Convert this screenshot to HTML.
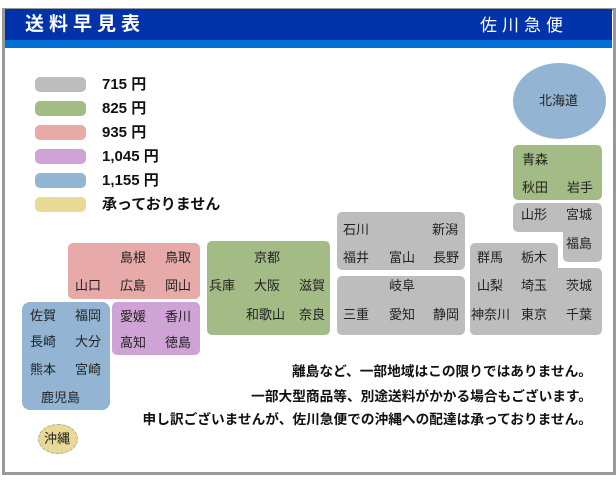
<!DOCTYPE html>
<html><head><meta charset="utf-8"><style>
body{margin:0;width:616px;height:480px;background:#fff;position:relative;overflow:hidden;font-family:"Liberation Sans","Noto Sans CJK JP",sans-serif;}
.a{position:absolute}
.t{position:absolute;font-size:13px;line-height:18px;color:#222;white-space:nowrap}
.b{position:absolute;border-radius:5px}
.g{background:#bdbdbd}.gr{background:#a3bb85}.p{background:#e8a9a9}.v{background:#cfa3d6}.bl{background:#93b5d3}.y{background:#e8d994}
.sw{position:absolute;left:35px;width:51px;height:15px;border-radius:5px}
.lt{position:absolute;left:102px;font-size:15px;font-weight:bold;line-height:18px;color:#111}
.n{position:absolute;right:24px;font-size:13.7px;font-weight:bold;line-height:18px;color:#111;white-space:nowrap}
</style></head><body>
<div class="a" style="left:2px;top:8px;width:608px;height:461px;border:3px solid #999;"></div>
<div class="a" style="left:5px;top:9px;width:607px;height:31px;background:#0033aa"></div>
<div class="a" style="left:5px;top:40px;width:607px;height:8px;background:#006fd6"></div>
<div class="a" style="left:25px;top:12px;color:#fff;font-size:19px;font-weight:bold;letter-spacing:5px;line-height:26px">送料早見表</div>
<div class="a" style="left:480px;top:14px;color:#fff;font-size:17px;letter-spacing:5px;line-height:24px">佐川急便</div>

<div class="sw g" style="top:77px"></div><div class="lt" style="top:76px">715 円</div>
<div class="sw gr" style="top:101px"></div><div class="lt" style="top:100px">825 円</div>
<div class="sw p" style="top:125px"></div><div class="lt" style="top:124px">935 円</div>
<div class="sw v" style="top:149px"></div><div class="lt" style="top:148px">1,045 円</div>
<div class="sw bl" style="top:173px"></div><div class="lt" style="top:172px">1,155 円</div>
<div class="sw y" style="top:197px"></div><div class="lt" style="top:196px">承っておりません</div>

<div class="a bl" style="left:513px;top:63px;width:93px;height:76px;border-radius:50%"></div>
<div class="t" style="left:539px;top:92px">北海道</div>

<div class="b gr" style="left:513px;top:145px;width:89px;height:55px"></div>
<div class="b g" style="left:513px;top:203px;width:89px;height:29px"></div>
<div class="b g" style="left:563px;top:222px;width:39px;height:40px"></div>
<div class="b g" style="left:337px;top:212px;width:128px;height:58px"></div>
<div class="b g" style="left:337px;top:276px;width:128px;height:59px"></div>
<div class="b g" style="left:470px;top:243px;width:88px;height:92px"></div>
<div class="b g" style="left:470px;top:268px;width:132px;height:67px"></div>
<div class="b gr" style="left:207px;top:241px;width:123px;height:94px"></div>
<div class="b p" style="left:68px;top:243px;width:132px;height:56px"></div>
<div class="b v" style="left:112px;top:302px;width:88px;height:53px"></div>
<div class="b bl" style="left:22px;top:302px;width:88px;height:108px;border-radius:8px"></div>
<div class="a y" style="left:38px;top:424px;width:40px;height:30px;border-radius:50%;border:1px dashed #aaa;box-sizing:border-box"></div>
<div class="t" style="left:44px;top:430px">沖縄</div>

<div class="t" style="left:522px;top:151px">青森</div>
<div class="t" style="left:522px;top:179px">秋田</div><div class="t" style="left:567px;top:179px">岩手</div>
<div class="t" style="left:521px;top:206px">山形</div><div class="t" style="left:566px;top:206px">宮城</div>
<div class="t" style="left:566px;top:235px">福島</div>

<div class="t" style="left:120px;top:249px">島根</div><div class="t" style="left:165px;top:249px">鳥取</div>
<div class="t" style="left:75px;top:277px">山口</div><div class="t" style="left:120px;top:277px">広島</div><div class="t" style="left:165px;top:277px">岡山</div>
<div class="t" style="left:120px;top:308px">愛媛</div><div class="t" style="left:165px;top:308px">香川</div>
<div class="t" style="left:120px;top:334px">高知</div><div class="t" style="left:165px;top:334px">徳島</div>
<div class="t" style="left:30px;top:307px">佐賀</div><div class="t" style="left:75px;top:307px">福岡</div>
<div class="t" style="left:30px;top:333px">長崎</div><div class="t" style="left:75px;top:333px">大分</div>
<div class="t" style="left:30px;top:361px">熊本</div><div class="t" style="left:75px;top:361px">宮崎</div>
<div class="t" style="left:41px;top:389px">鹿児島</div>

<div class="t" style="left:254px;top:249px">京都</div>
<div class="t" style="left:209px;top:277px">兵庫</div><div class="t" style="left:254px;top:277px">大阪</div><div class="t" style="left:299px;top:277px">滋賀</div>
<div class="t" style="left:246px;top:306px">和歌山</div><div class="t" style="left:299px;top:306px">奈良</div>

<div class="t" style="left:343px;top:221px">石川</div><div class="t" style="left:432px;top:221px">新潟</div>
<div class="t" style="left:343px;top:249px">福井</div><div class="t" style="left:389px;top:249px">富山</div><div class="t" style="left:433px;top:249px">長野</div>
<div class="t" style="left:389px;top:277px">岐阜</div>
<div class="t" style="left:343px;top:306px">三重</div><div class="t" style="left:389px;top:306px">愛知</div><div class="t" style="left:433px;top:306px">静岡</div>

<div class="t" style="left:477px;top:249px">群馬</div><div class="t" style="left:521px;top:249px">栃木</div>
<div class="t" style="left:477px;top:277px">山梨</div><div class="t" style="left:521px;top:277px">埼玉</div><div class="t" style="left:566px;top:277px">茨城</div>
<div class="t" style="left:471px;top:306px">神奈川</div><div class="t" style="left:521px;top:306px">東京</div><div class="t" style="left:566px;top:306px">千葉</div>

<div class="n" style="top:363px">離島など、一部地域はこの限りではありません。</div>
<div class="n" style="top:388px">一部大型商品等、別途送料がかかる場合もございます。</div>
<div class="n" style="top:411px">申し訳ございませんが、佐川急便での沖縄への配達は承っておりません。</div>
</body></html>
